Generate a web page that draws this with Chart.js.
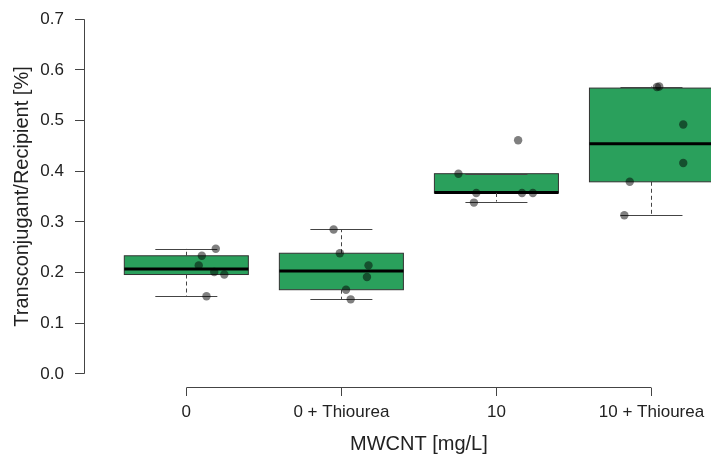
<!DOCTYPE html>
<html>
<head>
<meta charset="utf-8">
<script src="https://cdn.jsdelivr.net/npm/chart.js@4"></script>
<style>
    html, body { margin: 0; padding: 0; background: #fff; overflow: hidden; }
    #wrap { width: 711px; height: 456px; overflow: hidden; }
</style>
</head>
<body>
<div id="wrap"><canvas id="boxChart" width="758" height="456"></canvas></div>
<script>
const groups = ['0', '0 + Thiourea', '10', '10 + Thiourea'];
const yTicks = [0, 0.1, 0.2, 0.3, 0.4, 0.5, 0.6, 0.7];

// box statistics
const whiskerLow = [0.153, 0.147, 0.340, 0.313];
const q1 = [0.196, 0.166, 0.357, 0.379];
const medians = [0.207, 0.203, 0.358, 0.454];
const q3 = [0.233, 0.238, 0.395, 0.564];
const whiskerHigh = [0.247, 0.285, 0.395, 0.567];

// single replicates and their jitter (in group units)
const values0 = [0.247, 0.233, 0.214, 0.201, 0.196, 0.153];
const jitter0 = [0.19, 0.10, 0.08, 0.18, 0.245, 0.13];
const values0T = [0.285, 0.238, 0.214, 0.191, 0.166, 0.147];
const jitter0T = [-0.05, -0.01, 0.175, 0.165, 0.03, 0.06];
const values10 = [0.461, 0.395, 0.357, 0.357, 0.357, 0.338];
const jitter10 = [0.14, -0.245, -0.13, 0.165, 0.235, -0.145];
const values10T = [0.566, 0.567, 0.492, 0.416, 0.379, 0.313];
const jitter10T = [0.035, 0.05, 0.205, 0.205, -0.14, -0.175];

const allValues = [values0, values0T, values10, values10T];
const allJitter = [jitter0, jitter0T, jitter10, jitter10T];

const boxColor = 'rgb(42, 160, 92)';
const axisColor = '#444';
const fontFamily = '"Liberation Sans", Arial, sans-serif';

const pointData = [];
allValues.forEach((vals, i) => {
    vals.forEach((v, j) => pointData.push({ x: i + 1 + allJitter[i][j], y: v }));
});

// draws the boxes under the points, and R-style axis lines
const boxPlugin = {
    id: 'boxes',
    beforeDatasetsDraw(chart) {
        const { ctx, chartArea, scales: { x, y } } = chart;
        ctx.save();
        ctx.beginPath();
        ctx.rect(chartArea.left, chartArea.top, chartArea.width, chartArea.height);
        ctx.clip();
        groups.forEach((g, i) => {
            const pos = i + 1;
            const left = x.getPixelForValue(pos - 0.4);
            const right = x.getPixelForValue(pos + 0.4);
            const mid = Math.round(x.getPixelForValue(pos)) + 0.5;
            const capL = x.getPixelForValue(pos - 0.2);
            const capR = x.getPixelForValue(pos + 0.2);
            const top = y.getPixelForValue(q3[i]);
            const bot = y.getPixelForValue(q1[i]);
            const hi = y.getPixelForValue(whiskerHigh[i]);
            const lo = y.getPixelForValue(whiskerLow[i]);
            const med = y.getPixelForValue(medians[i]);

            ctx.fillStyle = boxColor;
            ctx.fillRect(left, top, right - left, bot - top);
            ctx.strokeStyle = '#333';
            ctx.lineWidth = 1;
            ctx.strokeRect(left, top, right - left, bot - top);

            ctx.strokeStyle = '#000';
            ctx.lineWidth = 3;
            ctx.beginPath();
            ctx.moveTo(left, med);
            ctx.lineTo(right, med);
            ctx.stroke();

            ctx.strokeStyle = axisColor;
            ctx.lineWidth = 1;
            ctx.setLineDash([4, 3]);
            ctx.beginPath();
            ctx.moveTo(mid, top);
            ctx.lineTo(mid, hi);
            ctx.moveTo(mid, bot);
            ctx.lineTo(mid, lo);
            ctx.stroke();
            ctx.setLineDash([]);
            ctx.beginPath();
            ctx.moveTo(capL, Math.round(hi) + 0.5);
            ctx.lineTo(capR, Math.round(hi) + 0.5);
            ctx.moveTo(capL, Math.round(lo) + 0.5);
            ctx.lineTo(capR, Math.round(lo) + 0.5);
            ctx.stroke();
        });
        ctx.restore();
    },
    afterDraw(chart) {
        const { ctx, chartArea, scales: { x, y } } = chart;
        ctx.save();
        ctx.strokeStyle = axisColor;
        ctx.lineWidth = 1;
        const ax = Math.round(chartArea.left) + 0.5;
        const ay = Math.round(chartArea.bottom) - 0.5;
        ctx.beginPath();
        ctx.moveTo(ax, y.getPixelForValue(yTicks[0]));
        ctx.lineTo(ax, y.getPixelForValue(yTicks[yTicks.length - 1]));
        ctx.moveTo(x.getPixelForValue(1), ay);
        ctx.lineTo(x.getPixelForValue(groups.length), ay);
        ctx.stroke();
        ctx.restore();
    }
};

new Chart(document.getElementById('boxChart'), {
    type: 'scatter',
    data: {
        datasets: [{
            data: pointData,
            backgroundColor: 'rgba(0, 0, 0, 0.5)',
            borderWidth: 0,
            pointRadius: 4.2,
            pointHoverRadius: 4.2
        }]
    },
    options: {
        responsive: false,
        animation: false,
        events: [],
        layout: { padding: { top: 5, left: 0, right: 0, bottom: 0 } },
        plugins: {
            legend: { display: false },
            tooltip: { enabled: false }
        },
        scales: {
            x: {
                type: 'linear',
                min: 0.34,
                max: 4.66,
                afterBuildTicks: axis => { axis.ticks = groups.map((g, i) => ({ value: i + 1 })); },
                afterFit: axis => {
                    axis.height = 68;
                    axis.paddingLeft = 0;
                    axis.paddingRight = 0;
                },
                border: { display: false },
                grid: { drawOnChartArea: false, drawTicks: true, tickLength: 8, color: axisColor },
                ticks: {
                    autoSkip: false,
                    maxRotation: 0,
                    padding: 6,
                    color: '#222',
                    font: { family: fontFamily, size: 17 },
                    callback: v => groups[v - 1]
                },
                title: {
                    display: true,
                    text: 'MWCNT [mg/L]',
                    color: '#222',
                    font: { family: fontFamily, size: 20 },
                    padding: { top: 0, bottom: 0 }
                }
            },
            y: {
                min: -0.028,
                max: 0.728,
                afterBuildTicks: axis => { axis.ticks = yTicks.map(v => ({ value: v })); },
                afterFit: axis => {
                    axis.width = 84;
                    axis.paddingTop = 0;
                    axis.paddingBottom = 0;
                },
                border: { display: false },
                grid: { drawOnChartArea: false, drawTicks: true, tickLength: 9, color: axisColor },
                ticks: {
                    padding: 11,
                    color: '#222',
                    font: { family: fontFamily, size: 17 },
                    callback: v => v.toFixed(1)
                },
                title: {
                    display: true,
                    text: 'Transconjugant/Recipient [%]',
                    color: '#222',
                    font: { family: fontFamily, size: 20 },
                    padding: { top: 10, bottom: 0 }
                }
            }
        }
    },
    plugins: [boxPlugin]
});
</script>
</body>
</html>
